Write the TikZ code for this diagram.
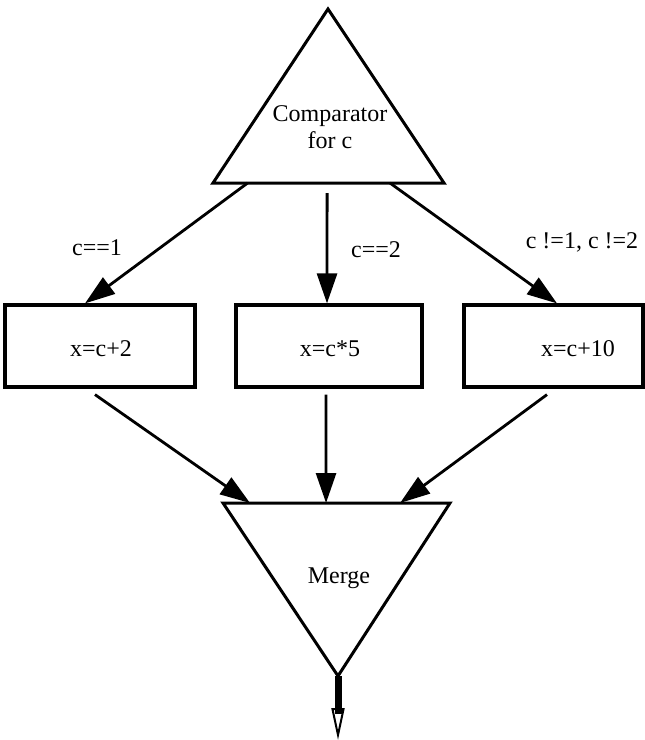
\documentclass[tikz,border=0pt]{standalone}
\usepackage{fontspec}
\setmainfont{Liberation Serif}
\usetikzlibrary{arrows.meta,calc}

\tikzset{
  pic frame/.style={x=1bp,y=-1bp},
  outline/.style={line width=3bp,line join=miter},
  opbox/.style={draw,line width=3.2bp,rectangle,minimum height=82bp,inner sep=0pt},
  lbl/.style={font=\fontsize{24bp}{27bp}\selectfont,inner sep=0pt},
  flow/.style={line width=2.8bp,-{Triangle[length=30bp,width=20bp]}},
}

\begin{document}
\begin{tikzpicture}[pic frame]
\useasboundingbox (0,0) rectangle (645,740);

% comparator triangle
\coordinate (cA) at (328,9);
\coordinate (cL) at (213,183);
\coordinate (cR) at (444,183);
\draw[outline] (cA) -- (cL) -- (cR) -- cycle;
\node[lbl,align=center] (cmp) at (330,127) {Comparator\\for c};

% operation boxes
\node[opbox,minimum width=190bp] (b1) at (100,346) {};
\node[opbox,minimum width=186bp] (b2) at (329,346) {};
\node[opbox,minimum width=179bp] (b3) at (553.5,346) {};
\node[lbl,anchor=base] (t1) at (101,356) {x=c+2};
\node[lbl,anchor=base] (t2) at (330,356) {x=c*5};
\node[lbl,anchor=base] (t3) at (578,356) {x=c+10};

% branch conditions
\node[lbl,anchor=base] (k1) at (97,255) {c==1};
\node[lbl,anchor=base] (k2) at (376,257) {c==2};
\node[lbl,anchor=base] (k3) at (582,248) {c !=1, c !=2};

% merge triangle
\coordinate (mL) at (223,503);
\coordinate (mR) at (450,503);
\coordinate (mB) at (338,676);
\draw[outline] (mL) -- (mR) -- (mB) -- cycle;
\node[lbl,anchor=base] (mg) at (339,583) {Merge};

% comparator to boxes
\draw[flow] ($(cL)!0.15!(cR)$) -- ([xshift=-15bp]b1.north);
\draw[flow] ([yshift=-10bp]$(cL)!0.494!(cR)$) -- ([xshift=-2bp]b2.north);
\draw[flow] ($(cL)!0.766!(cR)$) -- ([xshift=3.5bp]b3.north);

% boxes to merge
\draw[flow] ([xshift=-5bp,yshift=-6bp]b1.south) -- ($(mL)!0.119!(mR)$);
\draw[flow] ([xshift=-3bp,yshift=-6bp]b2.south) -- ($(mL)!0.454!(mR)$);
\draw[flow] ([xshift=-6.5bp,yshift=-6bp]b3.south) -- ($(mL)!0.78!(mR)$);

% output
\coordinate (o1) at (338,708);
\coordinate (o2) at (338,740);
\draw[line width=7bp] (mB) -- (338,714);
\draw[line width=2bp,-{Triangle[open,length=32bp,width=13bp]}] (o1) -- (o2);
\end{tikzpicture}
\end{document}
